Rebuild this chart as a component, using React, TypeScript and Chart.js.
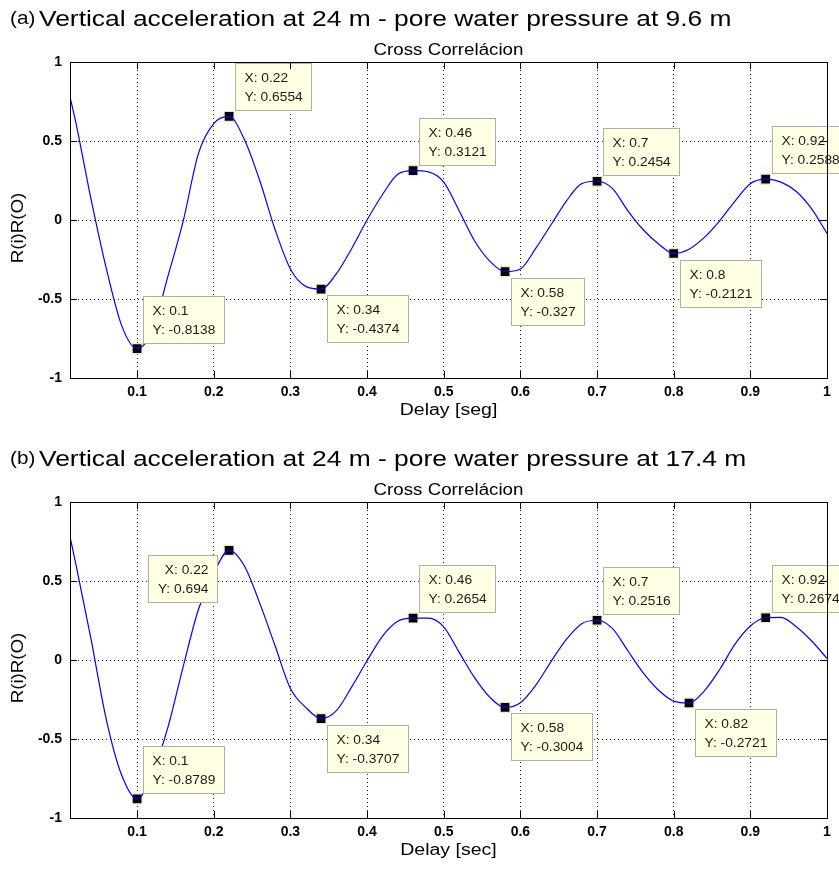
import React, { useEffect, useRef } from "react";
import { Chart, registerables } from "chart.js";

Chart.register(...registerables);

// Lag (s) at which the cross-correlation is sampled
const delay = [
  0.0125, 0.02, 0.04, 0.06, 0.08, 0.1, 0.12, 0.14, 0.16, 0.18, 0.2,
  0.22, 0.24, 0.26, 0.28, 0.3, 0.32, 0.34, 0.36, 0.38, 0.4,
  0.42, 0.44, 0.46, 0.48, 0.5, 0.52, 0.54, 0.56, 0.58, 0.6,
  0.62, 0.64, 0.66, 0.68, 0.7, 0.72, 0.74, 0.76, 0.78, 0.8,
  0.82, 0.84, 0.86, 0.88, 0.9, 0.92, 0.94, 0.96, 0.98, 1.0,
];

// (a) vertical acceleration at 24 m vs pore water pressure at 9.6 m
const corrA = [
  0.78, 0.62, 0.13, -0.31, -0.67, -0.8138, -0.7, -0.36, -0.01, 0.42, 0.61,
  0.6554, 0.51, 0.25, -0.06, -0.31, -0.42, -0.4374, -0.34, -0.18, 0.0,
  0.16, 0.29, 0.3121, 0.305, 0.24, 0.06, -0.13, -0.26, -0.327, -0.31,
  -0.18, -0.03, 0.12, 0.23, 0.2454, 0.2, 0.06, -0.06, -0.15, -0.2121,
  -0.185, -0.11, -0.005, 0.12, 0.23, 0.2588, 0.24, 0.18, 0.07, -0.085,
];

// (b) vertical acceleration at 24 m vs pore water pressure at 17.4 m
const corrB = [
  0.78, 0.61, 0.13, -0.38, -0.73, -0.8789, -0.72, -0.43, -0.045, 0.32, 0.55,
  0.694, 0.595, 0.36, 0.09, -0.18, -0.3, -0.3707, -0.32, -0.17, -0.005,
  0.15, 0.245, 0.2654, 0.265, 0.21, 0.05, -0.11, -0.235, -0.3004, -0.27,
  -0.16, -0.01, 0.13, 0.23, 0.2516, 0.2, 0.06, -0.08, -0.19, -0.26,
  -0.2721, -0.195, -0.06, 0.1, 0.215, 0.2674, 0.27, 0.21, 0.12, 0.01,
];

// Data tips (peaks and troughs)
const tipDelayA = [0.1, 0.22, 0.34, 0.46, 0.58, 0.7, 0.8, 0.92];
const tipCorrA = ["-0.8138", "0.6554", "-0.4374", "0.3121", "-0.327", "0.2454", "-0.2121", "0.2588"];
const tipDelayB = [0.1, 0.22, 0.34, 0.46, 0.58, 0.7, 0.82, 0.92];
const tipCorrB = ["-0.8789", "0.694", "-0.3707", "0.2654", "-0.3004", "0.2516", "-0.2721", "0.2674"];

const xTicks = [0.1, 0.2, 0.3, 0.4, 0.5, 0.6, 0.7, 0.8, 0.9, 1];
const yTicks = [-1, -0.5, 0, 0.5, 1];

// Which corner of the marker each tip box sits at
const tipSideA = ["ne", "ne", "se", "ne", "se", "ne", "se", "ne"];
const tipSideB = ["ne", "sw", "se", "ne", "se", "ne", "se", "ne"];

const FONT = '"Liberation Sans", Arial, Helvetica, sans-serif';
const W = 839;
const PLOT_TOP = 62;
const PLOT_BOTTOM = 378;
const PLOT_RIGHT_PAD = 12;
const Y_AXIS_W = 70;

function wideText(
  ctx: CanvasRenderingContext2D,
  text: string,
  x: number,
  y: number,
  size: number,
  sx: number,
  align: "left" | "center" | "right",
  baseline: CanvasTextBaseline,
  color = "#000",
  weight = "normal"
) {
  ctx.save();
  ctx.font = `${weight} ${size}px ${FONT}`;
  ctx.textBaseline = baseline;
  ctx.textAlign = "left";
  ctx.fillStyle = color;
  const w = ctx.measureText(text).width * sx;
  const x0 = align === "left" ? x : align === "center" ? x - w / 2 : x - w;
  ctx.translate(x0, y);
  ctx.scale(sx, 1);
  ctx.fillText(text, 0, 0);
  ctx.restore();
  return w;
}

type PanelProps = {
  height: number;
  tag: string;
  heading: string;
  xLabel: string;
  values: number[];
  tipX: number[];
  tipY: string[];
  tipSide: string[];
};

function makeDecor(p: PanelProps) {
  return {
    id: "panelDecor",
    afterDatasetsDraw(chart: any) {
      const ctx: CanvasRenderingContext2D = chart.ctx;
      const meta = chart.getDatasetMeta(1);
      const size = 13;
      const sx = 1.06;
      ctx.save();
      ctx.font = `normal ${size}px ${FONT}`;
      meta.data.forEach((el: any, i: number) => {
        const l1 = `X: ${p.tipX[i]}`;
        const l2 = `Y: ${p.tipY[i]}`;
        const tw = Math.max(ctx.measureText(l1).width, ctx.measureText(l2).width) * sx;
        const bw = Math.round(tw + 18);
        const bh = 47;
        const side = p.tipSide[i];
        let left: number;
        let top: number;
        if (side === "ne") {
          left = el.x + 6;
          top = el.y - 6 - bh;
        } else if (side === "se") {
          left = el.x + 6;
          top = el.y + 6;
        } else {
          left = el.x - 12 - bw;
          top = el.y + 5;
        }
        left = Math.round(left) + 0.5;
        top = Math.round(top) + 0.5;
        ctx.fillStyle = "#ffffe4";
        ctx.fillRect(left, top, bw, bh);
        ctx.strokeStyle = "#b0b0a2";
        ctx.lineWidth = 1;
        ctx.strokeRect(left, top, bw, bh);
        const right = side === "sw";
        const tx = right ? left + bw - 9 : left + 9;
        wideText(ctx, l1, tx, top + 15, size, sx, right ? "right" : "left", "middle", "#1a1a1a");
        wideText(ctx, l2, tx, top + 33.5, size, sx, right ? "right" : "left", "middle", "#1a1a1a");
      });
      ctx.restore();
    },
    afterDraw(chart: any) {
      const ctx: CanvasRenderingContext2D = chart.ctx;
      const a = chart.chartArea;
      const xs = chart.scales.x;
      const ys = chart.scales.y;
      ctx.save();
      ctx.strokeStyle = "#000";
      ctx.lineWidth = 1;
      // axes box
      ctx.strokeRect(Math.round(a.left) + 0.5, Math.round(a.top) + 0.5, Math.round(a.right - a.left), Math.round(a.bottom - a.top));
      // inward tick marks on all four sides
      const tl = 7;
      ctx.beginPath();
      xTicks.forEach((v) => {
        const px = Math.round(xs.getPixelForValue(v)) + 0.5;
        ctx.moveTo(px, a.bottom);
        ctx.lineTo(px, a.bottom - tl);
        ctx.moveTo(px, a.top);
        ctx.lineTo(px, a.top + tl);
      });
      yTicks.forEach((v) => {
        const py = Math.round(ys.getPixelForValue(v)) + 0.5;
        ctx.moveTo(a.left, py);
        ctx.lineTo(a.left + tl, py);
        ctx.moveTo(a.right, py);
        ctx.lineTo(a.right - tl, py);
      });
      ctx.stroke();
      ctx.restore();

      // tick labels
      xTicks.forEach((v) => {
        wideText(ctx, String(v), xs.getPixelForValue(v), a.bottom + 14, 14, 1.0, "center", "middle", "#000", "bold");
      });
      yTicks.forEach((v) => {
        wideText(ctx, String(v), a.left - 8, ys.getPixelForValue(v) + 0.5, 14, 1.0, "right", "middle", "#000", "bold");
      });

      const cx = (a.left + a.right) / 2;
      wideText(ctx, p.tag, 10, 19, 18, 1.15, "left", "middle");
      wideText(ctx, p.heading, 39, 26, 22, 1.2, "left", "alphabetic");
      wideText(ctx, "Cross Correlácion", cx, 55, 16, 1.17, "center", "alphabetic");
      wideText(ctx, p.xLabel, cx, 411, 16, 1.22, "center", "middle");
      ctx.save();
      ctx.translate(18.5, 228);
      ctx.rotate(-Math.PI / 2);
      wideText(ctx, "R(i)R(O)", 0, 0, 16, 1.17, "center", "middle");
      ctx.restore();
    },
  };
}

function Panel(p: PanelProps) {
  const ref = useRef<HTMLCanvasElement | null>(null);

  useEffect(() => {
    if (!ref.current) return;
    const chart = new Chart(ref.current, {
      type: "line",
      data: {
        datasets: [
          {
            data: delay.map((t, i) => ({ x: t, y: p.values[i] })),
            borderColor: "#0000ff",
            borderWidth: 1.2,
            pointRadius: 0,
            cubicInterpolationMode: "monotone",
            fill: false,
          },
          {
            data: p.tipX.map((t, i) => ({ x: t, y: Number(p.tipY[i]) })),
            showLine: false,
            pointStyle: "rect",
            pointRadius: 7,
            backgroundColor: "#000",
            borderColor: "#efeab4",
            borderWidth: 1.2,
            clip: false as any,
          },
        ],
      },
      options: {
        responsive: false,
        animation: false,
        events: [],
        layout: { padding: { top: PLOT_TOP, right: PLOT_RIGHT_PAD, left: 0, bottom: 0 } },
        plugins: {
          legend: { display: false },
          tooltip: { enabled: false },
          title: { display: false },
        },
        scales: {
          x: {
            type: "linear",
            min: 0.0125,
            max: 1,
            afterBuildTicks: (s: any) => {
              s.ticks = xTicks.map((v) => ({ value: v }));
            },
            afterFit: (s: any) => {
              s.height = p.height - PLOT_BOTTOM;
            },
            grid: { color: "#222", lineWidth: 1, drawTicks: false },
            border: { display: false, dash: [1, 3] },
            ticks: { display: false },
          },
          y: {
            type: "linear",
            min: -1,
            max: 1,
            afterBuildTicks: (s: any) => {
              s.ticks = yTicks.map((v) => ({ value: v }));
            },
            afterFit: (s: any) => {
              s.width = Y_AXIS_W;
            },
            grid: { color: "#222", lineWidth: 1, drawTicks: false },
            border: { display: false, dash: [1, 3] },
            ticks: { display: false },
          },
        },
      } as any,
      plugins: [makeDecor(p)],
    });
    return () => chart.destroy();
  }, []);

  return (
    <canvas
      ref={ref}
      width={W}
      height={p.height}
      style={{ display: "block", width: W, height: p.height }}
    />
  );
}

export default function App() {
  return (
    <div style={{ position: "absolute", left: 0, top: 0, width: W, height: 869, background: "#fff" }}>
      <Panel
        height={440}
        tag="(a)"
        heading="Vertical acceleration at 24 m - pore water pressure at 9.6 m"
        xLabel="Delay [seg]"
        values={corrA}
        tipX={tipDelayA}
        tipY={tipCorrA}
        tipSide={tipSideA}
      />
      <Panel
        height={429}
        tag="(b)"
        heading="Vertical acceleration at 24 m - pore water pressure at 17.4 m"
        xLabel="Delay [sec]"
        values={corrB}
        tipX={tipDelayB}
        tipY={tipCorrB}
        tipSide={tipSideB}
      />
    </div>
  );
}
